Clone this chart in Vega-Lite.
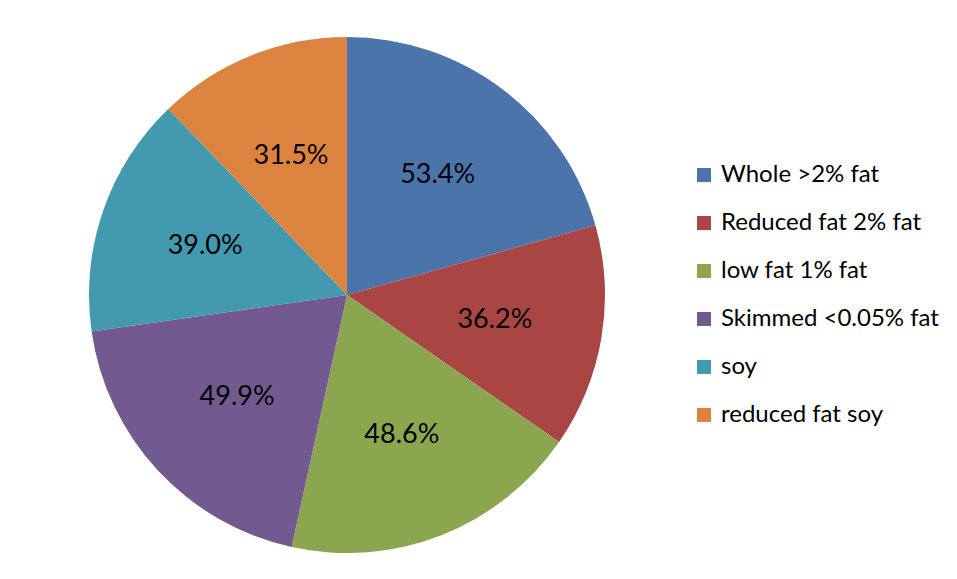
{
  "$schema": "https://vega.github.io/schema/vega-lite/v6.json",
  "width": 694,
  "height": 568,
  "autosize": {"type": "none"},
  "padding": {"left": 0, "top": 11, "right": 263, "bottom": 0},
  "background": "white",
  "config": {"view": {"stroke": null}},
  "data": {"values": [
    {"type": "Whole >2% fat", "value": 53.4, "label": "53.4%"},
    {"type": "Reduced fat 2% fat", "value": 36.2, "label": "36.2%"},
    {"type": "low fat 1% fat", "value": 48.6, "label": "48.6%"},
    {"type": "Skimmed <0.05% fat", "value": 49.9, "label": "49.9%"},
    {"type": "soy", "value": 39.0, "label": "39.0%"},
    {"type": "reduced fat soy", "value": 31.5, "label": "31.5%"}
  ]},
  "transform": [{"window": [{"op": "row_number", "as": "idx"}]}],
  "encoding": {
    "theta": {"field": "value", "type": "quantitative", "stack": true},
    "order": {"field": "idx", "type": "quantitative"}
  },
  "layer": [
    {
      "mark": {"type": "arc", "outerRadius": 258},
      "encoding": {
        "color": {
          "field": "type",
          "type": "nominal",
          "scale": {
            "domain": ["Whole >2% fat", "Reduced fat 2% fat", "low fat 1% fat", "Skimmed <0.05% fat", "soy", "reduced fat soy"],
            "range": ["#4a74aa", "#a94644", "#8aa64f", "#725a90", "#4399b0", "#dc843f"]
          },
          "legend": {
            "orient": "none",
            "legendX": 692,
            "legendY": 152,
            "title": null,
            "symbolType": "square",
            "symbolSize": 196,
            "symbolStrokeWidth": 0,
            "labelFontSize": 24,
            "labelFont": "Lato",
            "labelColor": "black",
            "labelLimit": 400,
            "rowPadding": 24,
            "labelOffset": 5,
            "padding": 0
          }
        }
      }
    },
    {
      "mark": {"type": "text", "radius": 150, "fontSize": 27, "font": "Lato", "color": "black"},
      "encoding": {"text": {"field": "label", "type": "nominal"}}
    }
  ]
}
